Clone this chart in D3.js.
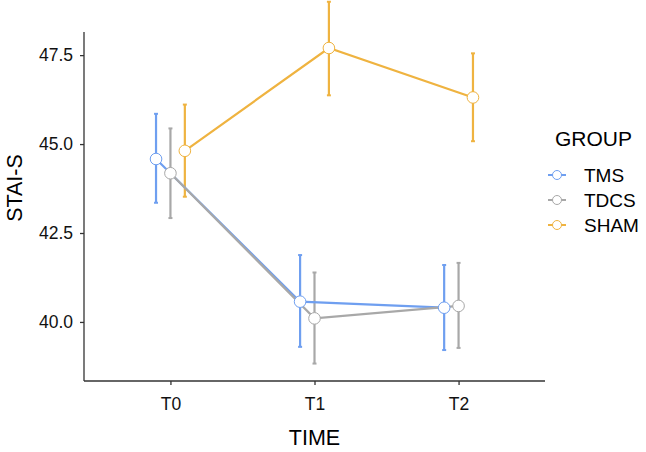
<!DOCTYPE html>
<html>
<head>
<meta charset="utf-8">
<script src="https://d3js.org/d3.v7.min.js"></script>
<style>
  body { margin: 0; background: #fff; }
  text { font-family: "Liberation Sans", Arial, sans-serif; }
</style>
</head>
<body>
<div id="chart"></div>
<script>
// data
var times = ["T0", "T1", "T2"]
var groups = ["TMS", "TDCS", "SHAM"]
var colors = ["#6f9ff0", "#a8a8a8", "#efb340"]
var yTicks = [40.0, 42.5, 45.0, 47.5]

var tmsMean  = [44.58, 40.57, 40.40]
var tmsLow   = [43.35, 39.30, 39.21]
var tmsHigh  = [45.85, 41.88, 41.60]
var tdcsMean = [44.18, 40.10, 40.45]
var tdcsLow  = [42.92, 38.83, 39.27]
var tdcsHigh = [45.44, 41.39, 41.66]
var shamMean = [44.81, 47.70, 46.31]
var shamLow  = [43.52, 46.37, 45.08]
var shamHigh = [46.11, 49.00, 47.55]

var series = [
  {group: "TMS",  mean: tmsMean,  low: tmsLow,  high: tmsHigh},
  {group: "TDCS", mean: tdcsMean, low: tdcsLow, high: tdcsHigh},
  {group: "SHAM", mean: shamMean, low: shamLow, high: shamHigh}
]

// set the dimensions and margins of the graph
var margin = {top: 32, right: 101, bottom: 71, left: 84},
    width = 646 - margin.left - margin.right,
    height = 452 - margin.top - margin.bottom

var svg = d3.select("#chart")
  .append("svg")
    .attr("width", 646)
    .attr("height", 452)
  .append("g")
    .attr("transform", "translate(" + margin.left + "," + margin.top + ")")

var color = d3.scaleOrdinal().domain(groups).range(colors)

// discrete x like ggplot: positions 1..3, expanded by 0.6
var xPos = d3.scaleLinear().domain([0.4, 3.6]).range([0, width])
var x = d3.scalePoint().domain(times).range([xPos(1), xPos(3)])
var dodge = {TMS: -0.1, TDCS: 0, SHAM: 0.1}
function xd(t, g) { return xPos(times.indexOf(t) + 1 + dodge[g]) }

var y = d3.scaleLinear().domain([38.34, 48.15]).range([height, 0])

// axes
var xAxis = svg.append("g")
  .attr("transform", "translate(0," + height + ")")
  .call(d3.axisBottom(x).tickSize(4).tickPadding(13))
xAxis.select(".domain").attr("d", "M0,0H" + width)

var yAxis = svg.append("g")
  .call(d3.axisLeft(y).tickValues(yTicks).tickFormat(d3.format(".1f")).tickSize(4).tickPadding(7))
yAxis.select(".domain").attr("d", "M0,0V" + height)

svg.selectAll(".domain").attr("stroke", "#333").attr("stroke-width", 1.3)
svg.selectAll(".tick line").attr("stroke", "#333").attr("stroke-width", 1.3)
svg.selectAll(".tick text").attr("font-size", 17.5).attr("fill", "#111")
  .style("font-family", "Liberation Sans, Arial, sans-serif")

// axis titles
svg.append("text")
  .attr("x", width / 2)
  .attr("y", 445 - margin.top)
  .attr("text-anchor", "middle")
  .attr("font-size", 21.5)
  .text("TIME")

svg.append("text")
  .attr("transform", "translate(" + (22 - margin.left) + "," + (188 - margin.top) + ") rotate(-90)")
  .attr("text-anchor", "middle")
  .attr("font-size", 21.5)
  .text("STAI-S")

// error bars, lines, points
var line = d3.line()

series.forEach(function(s) {
  var g = svg.append("g")
  var c = color(s.group)
  times.forEach(function(t, i) {
    var cx = xd(t, s.group)
    g.append("line")
      .attr("x1", cx).attr("x2", cx)
      .attr("y1", y(s.low[i])).attr("y2", y(s.high[i]))
      .attr("stroke", c).attr("stroke-width", 2.2)
    ;[s.low[i], s.high[i]].forEach(function(v) {
      g.append("line")
        .attr("x1", cx - 2).attr("x2", cx + 2)
        .attr("y1", y(v)).attr("y2", y(v))
        .attr("stroke", c).attr("stroke-width", 2)
    })
  })
})

series.forEach(function(s) {
  svg.append("path")
    .attr("d", line(times.map(function(t, i) { return [xd(t, s.group), y(s.mean[i])] })))
    .attr("fill", "none")
    .attr("stroke", color(s.group))
    .attr("stroke-width", 2.2)
})

series.forEach(function(s) {
  svg.append("g").selectAll("circle")
    .data(times)
    .enter()
    .append("circle")
    .attr("cx", function(t) { return xd(t, s.group) })
    .attr("cy", function(t, i) { return y(s.mean[i]) })
    .attr("r", 5.8)
    .attr("fill", "white")
    .attr("stroke", color(s.group))
    .attr("stroke-width", 1)
})

// legend
var legend = svg.append("g").attr("transform", "translate(" + (548 - margin.left) + "," + (-margin.top) + ")")
legend.append("text")
  .attr("x", 7)
  .attr("y", 146)
  .attr("font-size", 21)
  .text("GROUP")

groups.forEach(function(gname, i) {
  var yy = 175 + i * 25
  legend.append("line")
    .attr("x1", 0).attr("x2", 18)
    .attr("y1", yy).attr("y2", yy)
    .attr("stroke", color(gname)).attr("stroke-width", 2)
  legend.append("circle")
    .attr("cx", 9).attr("cy", yy).attr("r", 4.5)
    .attr("fill", "white").attr("stroke", color(gname)).attr("stroke-width", 1)
  legend.append("text")
    .attr("x", 36).attr("y", yy)
    .attr("dy", "0.36em")
    .attr("font-size", 19)
    .text(gname)
})
</script>
</body>
</html>
